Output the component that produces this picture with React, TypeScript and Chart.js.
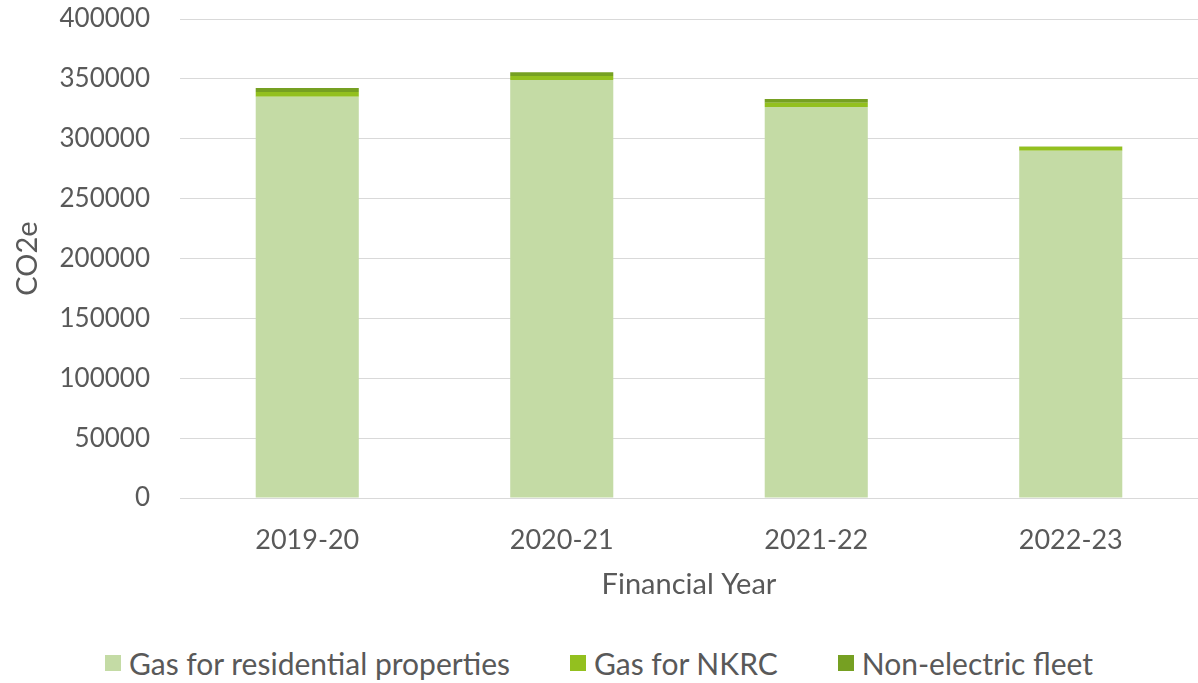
import React, { useEffect, useRef } from "react";
import { Chart, registerables } from "chart.js";

Chart.register(...registerables);

const categories = ["2019-20", "2020-21", "2021-22", "2022-23"];
const gasResidential = [335100, 349000, 326500, 290000];
const gasNKRC = [3900, 3300, 3600, 3300];
const nonElectricFleet = [3300, 3300, 3100, 300];
const yTicks = [0, 50000, 100000, 150000, 200000, 250000, 300000, 350000, 400000];
const seriesNames = ["Gas for residential properties", "Gas for NKRC", "Non-electric fleet"];
const seriesColors = ["#C4DBA5", "#93C01F", "#76A022"];

const FONT = "Lato, 'Open Sans', sans-serif";
const TEXT = "#595959";

export default function App() {
  const ref = useRef<HTMLCanvasElement>(null);
  useEffect(() => {
    if (!ref.current) return;
    const series = [gasResidential, gasNKRC, nonElectricFleet];
    const chart = new Chart(ref.current, {
      type: "bar",
      data: {
        labels: categories,
        datasets: series.map((d, i) => ({
          label: seriesNames[i],
          data: d,
          backgroundColor: seriesColors[i],
          categoryPercentage: 1,
          barPercentage: 0.405,
        })),
      },
      options: {
        animation: false,
        responsive: false,
        maintainAspectRatio: false,
        layout: { padding: { top: 19, right: 0, left: 0, bottom: 8 } },
        plugins: {
          tooltip: { enabled: false },
          legend: { display: false },
        },
        scales: {
          x: {
            stacked: true,
            grid: { display: false, drawTicks: false },
            border: { display: true, color: "#D9D9D9", width: 1 },
            ticks: { font: { family: FONT, size: 27 }, color: TEXT, padding: 26 },
            title: { display: true, text: "Financial Year", font: { family: FONT, size: 29 }, color: TEXT, padding: { top: 12, bottom: 0 } },
            afterFit: (axis: any) => {
              axis.height = 104;
              axis.paddingLeft = 0;
              axis.paddingRight = 0;
            },
          },
          y: {
            stacked: true,
            min: 0,
            max: 400000,
            afterBuildTicks: (axis: any) => {
              axis.ticks = yTicks.map((v) => ({ value: v }));
            },
            afterFit: (axis: any) => {
              axis.width = 180;
              axis.paddingTop = 0;
              axis.paddingBottom = 0;
            },
            grid: { color: "#D9D9D9", drawTicks: false, lineWidth: 1 },
            border: { display: false },
            ticks: {
              font: { family: FONT, size: 26 },
              color: TEXT,
              padding: 30,
              callback: (v: any) => String(v),
            },
            title: { display: true, text: "CO2e", font: { family: FONT, size: 29 }, color: TEXT, padding: { top: 10, bottom: 0 } },
          },
        },
      },
    });
    return () => chart.destroy();
  }, []);
  return (
    <div style={{ position: "fixed", left: 0, top: 0, width: 1198, height: 683, background: "#fff" }}>
      <canvas ref={ref} width={1198} height={610} style={{ width: 1198, height: 610, display: "block" }} />
      <div
        style={{
          position: "absolute",
          left: 0,
          top: 645,
          width: 1198,
          height: 36,
          display: "flex",
          justifyContent: "center",
          alignItems: "center",
          fontFamily: FONT,
          fontSize: 30,
          color: TEXT,
          gap: 60,
        }}
      >
        {seriesNames.map((n, i) => (
          <div key={n} style={{ display: "flex", alignItems: "center", whiteSpace: "nowrap" }}>
            <span style={{ display: "inline-block", width: 16, height: 16, background: seriesColors[i], marginRight: 8 }} />
            <span>{n}</span>
          </div>
        ))}
      </div>
    </div>
  );
}
